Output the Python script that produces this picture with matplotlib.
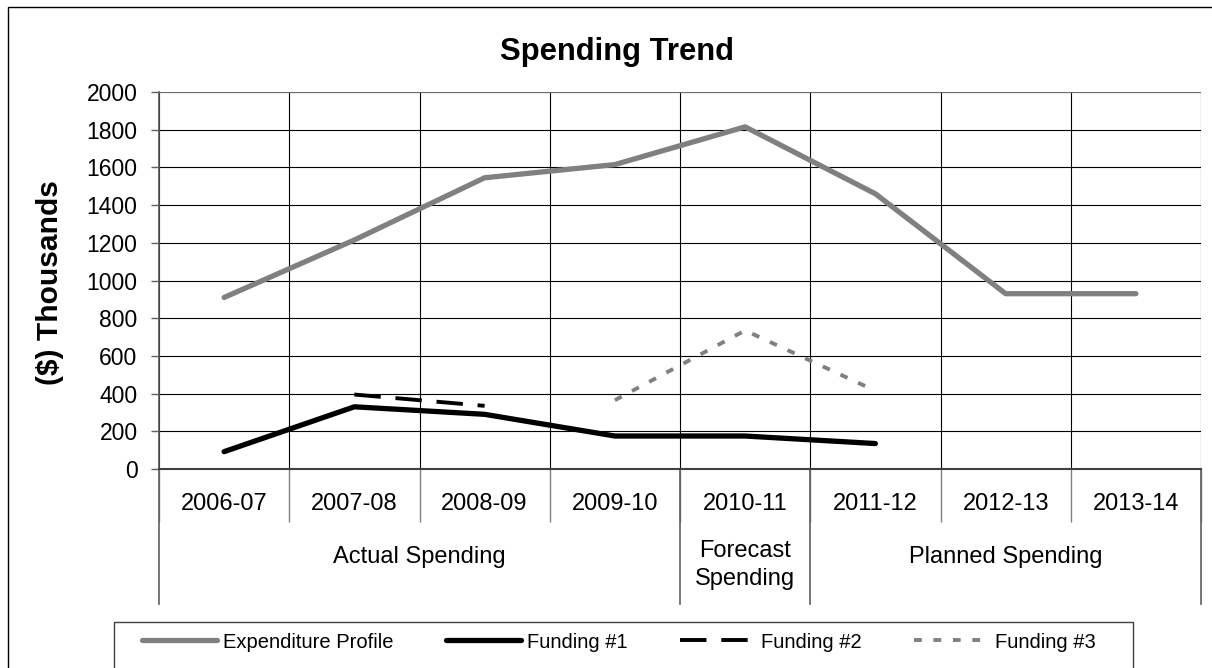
import matplotlib
matplotlib.use("Agg")
import matplotlib.pyplot as plt
from matplotlib.patches import Rectangle
import numpy as np

plt.rcParams['font.family'] = ['Liberation Sans', 'DejaVu Sans']

categories = ['2006-07', '2007-08', '2008-09', '2009-10', '2010-11', '2011-12', '2012-13', '2013-14']
group_names = ['Actual Spending', 'Forecast\nSpending', 'Planned Spending']
group_bounds = [(0, 4), (4, 5), (5, 8)]

expenditure = [910, 1215, 1545, 1615, 1815, 1460, 930, 930]
funding1 = [92, 330, 290, 175, 175, 135, np.nan, np.nan]
funding2 = [np.nan, 395, 335, np.nan, np.nan, np.nan, np.nan, np.nan]
funding3 = [np.nan, np.nan, np.nan, 365, 735, 415, np.nan, np.nan]

W, H = 1212, 668
fig = plt.figure(figsize=(W / 100, H / 100), dpi=100)

# plot area in pixels: left 159, right 1201, top 92, bottom 469
L, R, T, B = 159, 1201, 92, 469
ax = fig.add_axes([L / W, 1 - B / H, (R - L) / W, (B - T) / H])
ah = B - T

def below(px):
    # pixel position below the plot -> axes fraction
    return -(px - B) / ah

x = np.arange(len(categories)) + 0.5

ax.plot(x, expenditure, color='#808080', lw=3.8, solid_capstyle='round',
        solid_joinstyle='round', label='Expenditure Profile', zorder=5)
ax.plot(x, funding1, color='black', lw=3.8, solid_capstyle='round',
        solid_joinstyle='round', label='Funding #1', zorder=5)
ax.plot(x, funding2, color='black', lw=2.8, dashes=(6.8, 3.8),
        label='Funding #2', zorder=5)
ax.plot(x, funding3, color='#808080', lw=2.8, dashes=(2.0, 3.0),
        label='Funding #3', zorder=5)

ax.set_xlim(0, len(categories))
ax.set_ylim(0, 2000)
ax.set_yticks(np.arange(0, 2001, 200))
ax.tick_params(axis='y', labelsize=16.5, length=5.8, width=1, color='#606060', pad=9.6)

ax.set_xticks(np.arange(0, len(categories) + 1))
ax.set_xticklabels([])
ax.tick_params(axis='x', length=38, width=1, color='#808080', direction='out')

ax.grid(True, color='black', lw=0.8)
ax.set_axisbelow(True)
for s in ['top', 'right']:
    ax.spines[s].set_visible(False)
ax.spines['left'].set_color('#555555')
ax.spines['left'].set_linewidth(1.2)
ax.spines['bottom'].set_color('#404040')
ax.spines['bottom'].set_linewidth(1.5)
ax.axhline(2000, color='#808080', lw=1.2, zorder=3)

# category labels
for xi, c in zip(x, categories):
    ax.text(xi / len(categories), below(503.5), c, transform=ax.transAxes,
            ha='center', va='center', fontsize=17)

# group labels and separators
for name, (a, b) in zip(group_names, group_bounds):
    cy = below(565) if '\n' in name else below(557)
    ax.text((a + b) / 2 / len(categories), cy, name, transform=ax.transAxes,
            ha='center', va='center', fontsize=17, linespacing=1.3)
for edge in [0, 4, 5, 8]:
    ax.plot([edge / len(categories)] * 2, [0, below(604)], transform=ax.transAxes,
            color='#606060', lw=1.2, clip_on=False)

fig.text(617 / W, 1 - 60 / H, 'Spending Trend', ha='center', va='baseline',
         fontsize=22.3, fontweight='bold')
fig.text(50 / W, 1 - 283 / H, '($) Thousands', ha='center', va='center',
         rotation=90, fontsize=21.6, fontweight='bold')

fig.legend(loc='center left', bbox_to_anchor=(142 / W, 1 - 642 / H), ncol=4,
           frameon=False, fontsize=14.5, handlelength=3.73, handletextpad=0.3,
           columnspacing=2.6, borderpad=0, borderaxespad=0)

# legend frame and outer chart border (both run off the bottom of the image)
fig.add_artist(Rectangle((114 / W, -0.2), (1133 - 114) / W, 0.2 + 1 - 622 / H,
                         transform=fig.transFigure, fill=False, ec='#404040', lw=1))
fig.add_artist(Rectangle((8 / W, -0.2), 1.2, 0.2 + 1 - 7 / H,
                         transform=fig.transFigure, fill=False, ec='black', lw=1))

fig.savefig('out.png', dpi=100)
